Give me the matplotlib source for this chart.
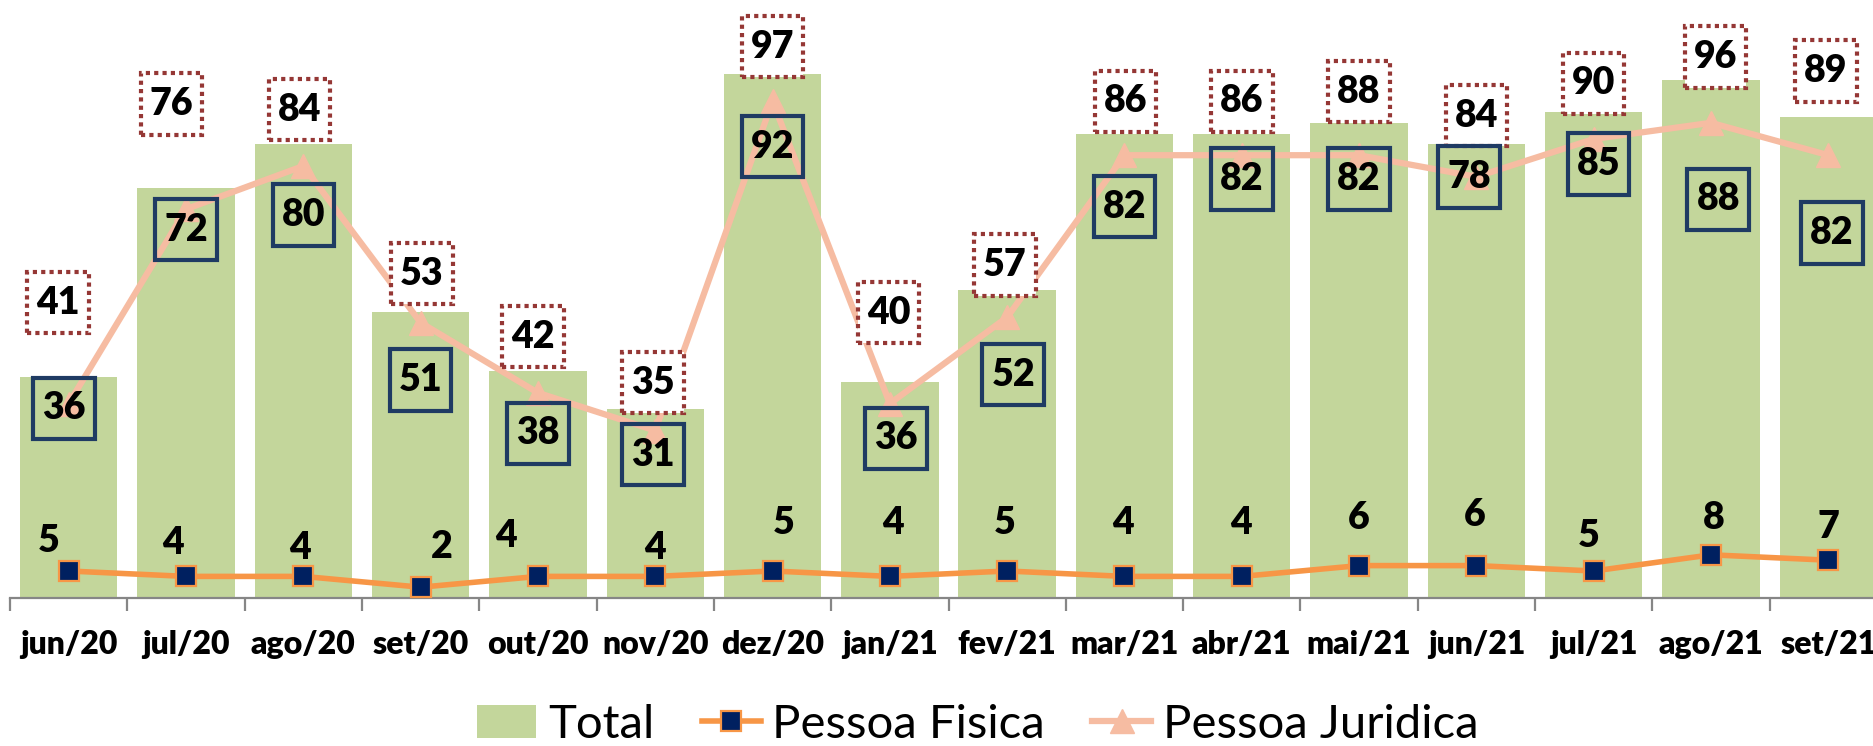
import matplotlib
matplotlib.use("Agg")
import matplotlib.pyplot as plt
from matplotlib.path import Path
from matplotlib.lines import Line2D
from matplotlib.patches import Patch
import numpy as np

# ---- data ----
months = ["jun/20", "jul/20", "ago/20", "set/20", "out/20", "nov/20", "dez/20", "jan/21",
          "fev/21", "mar/21", "abr/21", "mai/21", "jun/21", "jul/21", "ago/21", "set/21"]
total = [41, 76, 84, 53, 42, 35, 97, 40, 57, 86, 86, 88, 84, 90, 96, 89]
pessoa_fisica = [5, 4, 4, 2, 4, 4, 5, 4, 5, 4, 4, 6, 6, 5, 8, 7]
pessoa_juridica = [36, 72, 80, 51, 38, 31, 92, 36, 52, 82, 82, 82, 78, 85, 88, 82]

# ---- label placement (offsets in reference px, manually placed labels) ----
tot_off = [(-9, 62), (-12, 70), (-3, 29), (1, 32), (-4, 29), (-2, 22), (0, 23), (-1, 58),
           (-2, 21), (1, 27), (0, 27), (0, 26), (0, 24), (0, 24), (4, 19), (-2, 39)]
pf_off = [(-17, 25), (-11, 28), (-3, 24), (18, 34), (-27, 34), (0, 24), (9, 40), (3, 45),
          (-2, 40), (-1, 45), (-1, 45), (0, 40), (-1, 42), (-4, 29), (2, 31), (0, 28)]
pj_off = [(-4, -4), (0, -17), (0, -41), (0, -48), (0, -34), (-2, -20), (0, -38), (5, -29),
          (5, -48), (0, -43), (0, -20), (0, -20), (-6, 0), (4, -21), (6, -64), (3, -65)]
SC = 1.195

BAR_C = "#C3D69B"
PJ_C = "#F6BCA2"
PF_C = "#F79646"
PF_M = "#002060"
DOT_C = "#953735"
BOX_C = "#1F3B63"

FONT = "Lato"
WEIGHT = "heavy"

W, H = 1874, 746
fig = plt.figure(figsize=(W / 100, H / 100), dpi=100)
base_px = 598
unit_px = 5.40
ax = fig.add_axes([10 / W, (H - base_px) / H, 1877 / W, base_px / H])
ax.set_xlim(-0.5, len(months) - 0.5)
ax.set_ylim(0, base_px / unit_px)

x = np.arange(len(months))
ax.bar(x, total, width=0.83, color=BAR_C, zorder=1)
ax.plot(x, pessoa_juridica, color=PJ_C, lw=4.5, marker="^", ms=17,
        mfc=PJ_C, mec=PJ_C, zorder=3)
ax.plot(x, pessoa_fisica, color=PF_C, lw=4.0, marker="s", ms=14,
        mfc=PF_M, mec=PF_C, mew=1.6, zorder=4)


def make_box(hw_pad, half_h):
    def box(x0, y0, width, height, mutation_size):
        cx = x0 + width / 2
        cy = y0 + height / 2
        hw = width / 2 + hw_pad * mutation_size
        hh = half_h * mutation_size
        verts = [(cx - hw, cy - hh), (cx + hw, cy - hh), (cx + hw, cy + hh),
                 (cx - hw, cy + hh), (cx - hw, cy - hh)]
        codes = [Path.MOVETO, Path.LINETO, Path.LINETO, Path.LINETO, Path.CLOSEPOLY]
        return Path(verts, codes)
    return box


fs = 27
for i in range(len(months)):
    dx, dy = tot_off[i]
    ax.annotate(str(total[i]), (x[i], total[i]), xytext=(dx * SC, dy * SC),
                textcoords="offset pixels", ha="center", va="center",
                fontsize=fs, fontweight=WEIGHT, family=FONT, color="black", zorder=6,
                bbox=dict(boxstyle=make_box(0.24, 0.82), fc="white", ec=DOT_C,
                          lw=3.0, ls=(0, (1, 1)), capstyle="butt"))
    dx, dy = pj_off[i]
    ax.annotate(str(pessoa_juridica[i]), (x[i], pessoa_juridica[i]),
                xytext=(dx * SC, dy * SC), textcoords="offset pixels",
                ha="center", va="center", fontsize=fs, fontweight=WEIGHT,
                family=FONT, color="black", zorder=6,
                bbox=dict(boxstyle=make_box(0.24, 0.82), fc="none", ec=BOX_C, lw=3.0))
    dx, dy = pf_off[i]
    ax.annotate(str(pessoa_fisica[i]), (x[i], pessoa_fisica[i]),
                xytext=(dx * SC, dy * SC), textcoords="offset pixels",
                ha="center", va="center", fontsize=fs, fontweight=WEIGHT,
                family=FONT, color="black", zorder=6)

for s in ["top", "right", "left"]:
    ax.spines[s].set_visible(False)
ax.spines["bottom"].set_color("#868686")
ax.spines["bottom"].set_linewidth(1.6)
ax.set_yticks([])
ax.set_xticks(x)
ax.set_xticklabels(months, fontsize=23, fontweight=WEIGHT, family=FONT)
ax.set_xticks(np.arange(len(months) + 1) - 0.5, minor=True)
ax.tick_params(axis="x", which="major", length=0, pad=23)
ax.tick_params(axis="x", which="minor", length=9, width=1.6, color="#868686",
               direction="out")

handles = [
    Patch(facecolor=BAR_C, edgecolor="none", label="Total"),
    Line2D([0], [0], color=PF_C, lw=4.0, marker="s", ms=14, mfc=PF_M, mec=PF_C,
           mew=1.6, label="Pessoa Fisica"),
    Line2D([0], [0], color=PJ_C, lw=4.5, marker="^", ms=17, mfc=PJ_C, mec=PJ_C,
           label="Pessoa Juridica"),
]
fig.legend(handles=handles, loc="center", bbox_to_anchor=(978 / W, 21 / H),
           ncol=3, frameon=False, prop={"family": FONT, "size": 34},
           handlelength=1.25, handletextpad=0.25, columnspacing=1.0,
           borderaxespad=0, borderpad=0)

fig.savefig("out.png", dpi=100)
